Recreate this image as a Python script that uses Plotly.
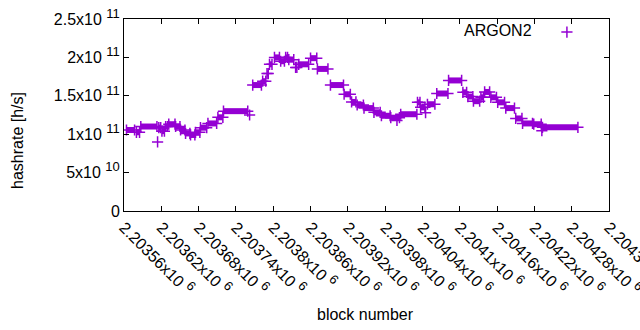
import plotly.graph_objects as go

# Runs of consecutive blocks with the same hashrate
run_start = [2203564, 2203580, 2203587, 2203614, 2203616, 2203621, 2203627, 2203632, 2203643, 2203651,
             2203659, 2203667, 2203675, 2203683, 2203695, 2203711, 2203720, 2203762, 2203767, 2203783,
             2203790, 2203794, 2203802, 2203812, 2203820, 2203825, 2203836, 2203841, 2203860, 2203871,
             2203892, 2203914, 2203926, 2203935, 2203946, 2203962, 2203974, 2203989, 2203999, 2204005,
             2204032, 2204037, 2204045, 2204048, 2204063, 2204082, 2204105, 2204113, 2204122, 2204134,
             2204140, 2204150, 2204161, 2204174, 2204190, 2204201, 2204219, 2204232, 2204233]
run_end = [2203577, 2203585, 2203613, 2203614, 2203619, 2203625, 2203630, 2203642, 2203650, 2203658,
           2203666, 2203674, 2203682, 2203693, 2203709, 2203719, 2203759, 2203762, 2203781, 2203788,
           2203792, 2203798, 2203810, 2203818, 2203823, 2203833, 2203838, 2203857, 2203870, 2203888,
           2203913, 2203924, 2203933, 2203945, 2203961, 2203972, 2203988, 2204003, 2203999, 2204031,
           2204036, 2204044, 2204045, 2204060, 2204081, 2204103, 2204111, 2204121, 2204132, 2204138,
           2204148, 2204159, 2204172, 2204188, 2204200, 2204217, 2204231, 2204232, 2204290]
hashrate = [1.055e11, 1.025e11, 1.10e11, 0.90e11, 1.085e11, 1.04e11, 1.10e11, 1.13e11, 1.10e11, 1.055e11,
            1.01e11, 0.99e11, 1.025e11, 1.085e11, 1.14e11, 1.22e11, 1.30e11, 1.25e11, 1.64e11, 1.69e11,
            1.79e11, 1.91e11, 2.00e11, 1.95e11, 2.00e11, 1.97e11, 1.87e11, 1.91e11, 1.99e11, 1.85e11,
            1.64e11, 1.52e11, 1.42e11, 1.38e11, 1.34e11, 1.285e11, 1.24e11, 1.215e11, 1.18e11, 1.26e11,
            1.415e11, 1.35e11, 1.28e11, 1.39e11, 1.53e11, 1.70e11, 1.545e11, 1.49e11, 1.43e11, 1.48e11,
            1.55e11, 1.48e11, 1.415e11, 1.34e11, 1.205e11, 1.14e11, 1.13e11, 1.045e11, 1.09e11]

x_ticks = [2203560, 2203620, 2203680, 2203740, 2203800, 2203860, 2203920, 2203980,
           2204040, 2204100, 2204160, 2204220, 2204280, 2204340]
x_tick_mantissa = ["2.20356", "2.20362", "2.20368", "2.20374", "2.2038", "2.20386", "2.20392",
                   "2.20398", "2.20404", "2.2041", "2.20416", "2.20422", "2.20428", "2.20434"]
x_tick_exponent = "6"
y_ticks = [0, 5e10, 1e11, 1.5e11, 2e11, 2.5e11]
y_tick_mantissa = ["0", "5", "1", "1.5", "2", "2.5"]
y_tick_exponent = ["", "10", "11", "11", "11", "11"]

COLOR = "#9400D3"
FONT = "Liberation Sans, Arial, sans-serif"
FS = 16
SUP = '<sup><span style="font-size:13px">{}</span></sup>'


def sci(m, e):
    return m if not e else m + "x10 " + SUP.format(e)


x_tick_labels = [sci(m, x_tick_exponent) for m in x_tick_mantissa]
y_tick_labels = [sci(m, e) for m, e in zip(y_tick_mantissa, y_tick_exponent)]

line_x, line_y, mk_x, mk_y = [], [], [], []
for s, e, v in zip(run_start, run_end, hashrate):
    line_x += [s, e, None]
    line_y += [v, v, None]
    mk_x.append(s); mk_y.append(v)
    if e != s:
        mk_x.append(e); mk_y.append(v)

fig = go.Figure()
fig.add_trace(go.Scatter(x=line_x, y=line_y, mode="lines", showlegend=False,
                         line=dict(color=COLOR, width=6), hoverinfo="skip"))
fig.add_trace(go.Scatter(x=mk_x, y=mk_y, mode="markers", name=" ",
                         marker=dict(symbol="cross-thin", size=8, color=COLOR,
                                     line=dict(color=COLOR, width=1.5))))

fig.update_layout(
    width=640, height=330,
    margin=dict(l=124, r=31, t=19, b=119),
    paper_bgcolor="white", plot_bgcolor="white",
    font=dict(family=FONT, size=FS, color="black"),
    showlegend=True,
    legend=dict(x=0.872, y=1.02, xanchor="left", yanchor="top",
                bgcolor="rgba(0,0,0,0)", borderwidth=0, font=dict(size=FS)),
    xaxis=dict(range=[2203560, 2204340], tickmode="array", tickvals=x_ticks,
               ticktext=x_tick_labels, tickangle=45, ticks="inside", ticklen=5,
               tickcolor="black", showline=True, linecolor="black", linewidth=1,
               mirror="ticks", showgrid=False, zeroline=False, automargin=False,
               ticklabeloverflow="allow", tickfont=dict(family=FONT, size=FS)),
    yaxis=dict(range=[0, 2.5e11], tickmode="array", tickvals=y_ticks,
               ticktext=y_tick_labels, ticks="inside", ticklen=5, tickcolor="black",
               showline=True, linecolor="black", linewidth=1, mirror="ticks",
               showgrid=False, zeroline=False, automargin=False,
               ticklabeloverflow="allow", tickfont=dict(family=FONT, size=FS)),
    annotations=[
        dict(text="hashrate [h/s]", xref="paper", yref="paper", x=-0.2186, y=0.37,
             textangle=-90, showarrow=False, xanchor="center", yanchor="middle",
             font=dict(family=FONT, size=FS)),
        dict(text="block number", xref="paper", yref="paper", x=0.497, y=-0.541,
             showarrow=False, xanchor="center", yanchor="middle",
             font=dict(family=FONT, size=FS)),
        dict(text="ARGON2", xref="paper", yref="paper", x=0.846, y=0.938,
             showarrow=False, xanchor="right", yanchor="middle",
             font=dict(family=FONT, size=FS)),
    ],
)

fig.write_html("out.html", config={"displayModeBar": False},
               post_script="document.body.style.margin='0px';")
